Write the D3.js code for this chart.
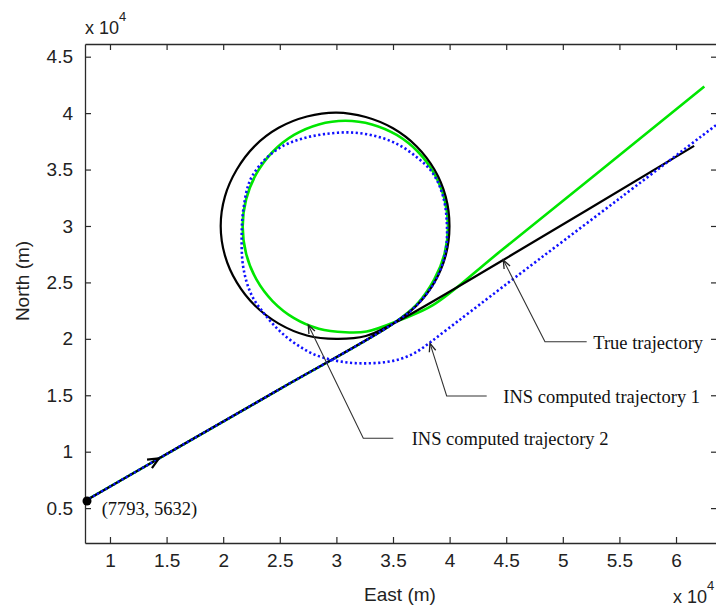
<!DOCTYPE html>
<html>
<head>
<meta charset="utf-8">
<script src="https://cdn.jsdelivr.net/npm/d3@7"></script>
<style>
  html, body { margin: 0; padding: 0; background: #fff; }
  svg { display: block; }
  .tick text { font-family: "Liberation Sans", Arial, sans-serif; font-size: 19px; fill: #222; }
</style>
</head>
<body>
<svg id="chart" width="716" height="606"></svg>
<script>
// Axis ticks (metres) and their labels shown in units of 10^4
const xTicks = [10000, 15000, 20000, 25000, 30000, 35000, 40000, 45000, 50000, 55000, 60000];
const yTicks = [5000, 10000, 15000, 20000, 25000, 30000, 35000, 40000, 45000];
const xDomain = [7793, 63620];
const yDomain = [1910, 46125];

// Starting point of the run
const startPoint = [7793, 5632];

// True trajectory: straight leg, full loop, straight leg
const trueTrajectory = [
  [7793, 5632], [15000, 9790], [25000, 15550], [35000, 21340],
  [37070, 22930], [38660, 25000], [39660, 27410], [39990, 30000],
  [39660, 32590], [38660, 35000], [37070, 37070], [35000, 38660],
  [32590, 39660], [30000, 40050], [27400, 39700], [24900, 38700],
  [22800, 37100], [21200, 35000], [20150, 32600], [19780, 30000],
  [20150, 27400], [21200, 25000], [22800, 22950], [24900, 21350],
  [27400, 20300], [30000, 20000], [32600, 20250], [35000, 21340],
  [44740, 26990], [61600, 37100]
];

// INS computed trajectory 2 (solid green)
const insTrajectory2 = [
  [7793, 5632], [15000, 9790], [25000, 15550], [35000, 21340],
  [37100, 23050], [38645, 25265], [39551, 27525], [39860, 29950],
  [39551, 32375], [38645, 34635], [37203, 36576], [35325, 38065],
  [33137, 39001], [30790, 39320], [28443, 39001], [26255, 38065],
  [24377, 36576], [22935, 34635], [22029, 32375], [21720, 29950],
  [22029, 27525], [22935, 25265], [24377, 23324], [26255, 21835],
  [28443, 20899], [30790, 20580], [32680, 20650], [35620, 21670],
  [38560, 23000], [44450, 27730], [62500, 42350]
];

// INS computed trajectory 1 (dotted blue)
const insTrajectory1 = [
  [7793, 5632], [15000, 9790], [25000, 15550], [35000, 21340],
  [37100, 23000], [38700, 25100], [39600, 27500], [39760, 30200],
  [39400, 32700], [38500, 34700], [37100, 36100], [35300, 37300],
  [33300, 38000], [31200, 38290], [29000, 38150], [27000, 37750],
  [25300, 37100], [23700, 35900], [22400, 34100], [21800, 31600],
  [21630, 29040], [21780, 26300], [22500, 23900], [23840, 21960],
  [25200, 20500], [26780, 19300], [28200, 18550], [29700, 18120],
  [31200, 17880], [32680, 17830], [34200, 17920], [35620, 18200],
  [37000, 18800], [38270, 19680], [39800, 20850], [41800, 22380],
  [45780, 25430], [55050, 32470], [64500, 39670]
];

// Callouts: arrow tip, elbow, end of horizontal leg, text start (all in data units)
const callouts = [
  { text: "True trajectory", tip: [44742, 26985], elbow: [48425, 19746], end: [52108, 19746], textX: 52692 },
  { text: "INS computed trajectory 1", tip: [38267, 19604], elbow: [39742, 14935], end: [43276, 14935], textX: 44742 },
  { text: "INS computed trajectory 2", tip: [27517, 21226], elbow: [32376, 11187], end: [35026, 11187], textX: 36651 }
];
const startLabel = { text: "(7793, 5632)", x: 9268, y: 4950 };
const headingArrowTip = [14329, 9406];

const margin = { left: 85, top: 44, right: 717, bottom: 543 };
const svg = d3.select("#chart");

const x = d3.scaleLinear().domain(xDomain).range([margin.left, margin.right]);
const y = d3.scaleLinear().domain(yDomain).range([margin.bottom, margin.top]);

svg.append("defs").append("clipPath").attr("id", "plot-clip")
  .append("rect")
  .attr("x", margin.left).attr("y", margin.top)
  .attr("width", margin.right - margin.left).attr("height", margin.bottom - margin.top);

const fmt = d => String(+(d / 10000).toFixed(1));
const axisColor = "#2a2a2a";

// Bottom axis with labels
const gx = svg.append("g").attr("transform", `translate(0,${margin.bottom})`)
  .call(d3.axisBottom(x).tickValues(xTicks).tickFormat(fmt).tickSizeInner(-6).tickSizeOuter(0).tickPadding(16));
// Top axis, ticks only
const gxt = svg.append("g").attr("transform", `translate(0,${margin.top})`)
  .call(d3.axisTop(x).tickValues(xTicks).tickFormat("").tickSizeInner(-6).tickSizeOuter(0));
// Left axis with labels
const gy = svg.append("g").attr("transform", `translate(${margin.left},0)`)
  .call(d3.axisLeft(y).tickValues(yTicks).tickFormat(fmt).tickSizeInner(-6).tickSizeOuter(0).tickPadding(12));
// Right axis, ticks only
const gyr = svg.append("g").attr("transform", `translate(${margin.right},0)`)
  .call(d3.axisRight(y).tickValues(yTicks).tickFormat("").tickSizeInner(-6).tickSizeOuter(0));

[gx, gxt, gy, gyr].forEach(g => {
  g.select(".domain").attr("stroke", axisColor).attr("stroke-width", 1.3);
  g.selectAll(".tick line").attr("stroke", axisColor).attr("stroke-width", 1.2);
});
gx.selectAll(".tick text").attr("dy", "0.4em");

// Trajectories
const line = d3.line().x(d => x(d[0])).y(d => y(d[1])).curve(d3.curveCatmullRom.alpha(0.5));
const plot = svg.append("g").attr("clip-path", "url(#plot-clip)");

plot.append("path").datum(insTrajectory2)
  .attr("d", line).attr("fill", "none")
  .attr("stroke", "#00e600").attr("stroke-width", 2.6);

plot.append("path").datum(trueTrajectory)
  .attr("d", line).attr("fill", "none")
  .attr("stroke", "#000").attr("stroke-width", 2.2);

plot.append("path").datum(insTrajectory1)
  .attr("d", line).attr("fill", "none")
  .attr("stroke", "#1010ff").attr("stroke-width", 2.6)
  .attr("stroke-dasharray", "2.2 2.5");

function arrowHead(g, tipPx, fromPx, len, spread, color, width) {
  const ang = Math.atan2(fromPx[1] - tipPx[1], fromPx[0] - tipPx[0]);
  const p1 = [tipPx[0] + len * Math.cos(ang + spread), tipPx[1] + len * Math.sin(ang + spread)];
  const p2 = [tipPx[0] + len * Math.cos(ang - spread), tipPx[1] + len * Math.sin(ang - spread)];
  g.append("path")
    .attr("d", `M${p1[0]},${p1[1]}L${tipPx[0]},${tipPx[1]}L${p2[0]},${p2[1]}`)
    .attr("fill", "none").attr("stroke", color).attr("stroke-width", width)
    .attr("stroke-linejoin", "miter");
}

// Start marker (drawn unclipped so it sits over the axis) and heading arrow
svg.append("circle")
  .attr("cx", x(startPoint[0]) + 2).attr("cy", y(startPoint[1])).attr("r", 4.5).attr("fill", "#000");
arrowHead(plot, [x(headingArrowTip[0]), y(headingArrowTip[1])],
  [x(startPoint[0]), y(startPoint[1])], 12, 0.42, "#000", 2.2);

// Callout leaders and labels
const annot = svg.append("g");
callouts.forEach(c => {
  const tip = [x(c.tip[0]), y(c.tip[1])];
  const elbow = [x(c.elbow[0]), y(c.elbow[1])];
  const end = [x(c.end[0]), y(c.end[1])];
  annot.append("path")
    .attr("d", `M${tip[0]},${tip[1]}L${elbow[0]},${elbow[1]}L${end[0]},${end[1]}`)
    .attr("fill", "none").attr("stroke", "#333").attr("stroke-width", 1.1);
  arrowHead(annot, tip, elbow, 9, 0.38, "#222", 1.3);
  annot.append("text")
    .attr("x", x(c.textX)).attr("y", elbow[1] + 1)
    .attr("dominant-baseline", "central")
    .attr("font-family", "'Liberation Serif', 'Times New Roman', serif")
    .attr("font-size", 18.5).attr("fill", "#111")
    .text(c.text);
});
annot.append("text")
  .attr("x", x(startLabel.x)).attr("y", y(startLabel.y))
  .attr("dominant-baseline", "central")
  .attr("font-family", "'Liberation Serif', 'Times New Roman', serif")
  .attr("font-size", 18.5).attr("fill", "#111")
  .text(startLabel.text);

// Axis titles and exponent markers
const sans = "'Liberation Sans', Arial, sans-serif";
svg.append("text").attr("x", 400).attr("y", 601)
  .attr("text-anchor", "middle").attr("font-family", sans).attr("font-size", 19).attr("fill", "#222")
  .text("East (m)");
svg.append("text")
  .attr("transform", `translate(29,281) rotate(-90)`)
  .attr("text-anchor", "middle").attr("font-family", sans).attr("font-size", 19).attr("fill", "#222")
  .text("North (m)");

function exponentLabel(px, py) {
  const t = svg.append("text").attr("x", px).attr("y", py)
    .attr("font-family", sans).attr("font-size", 18).attr("fill", "#222");
  t.append("tspan").text("x 10");
  t.append("tspan").attr("dy", -13).attr("font-size", 13).text("4");
}
exponentLabel(85, 34);
exponentLabel(673, 603);
</script>
</body>
</html>
